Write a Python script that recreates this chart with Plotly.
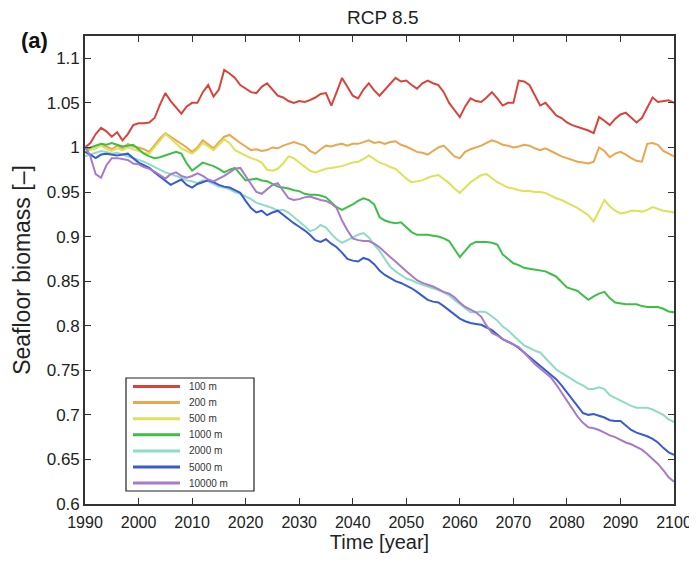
import plotly.graph_objects as go

years = list(range(1990, 2101))

depth_labels = ["100 m", "200 m", "500 m", "1000 m", "2000 m", "5000 m", "10000 m"]

b100 = [1.000, 1.005, 1.015, 1.022, 1.018, 1.012, 1.017, 1.008, 1.015, 1.025,
        1.027, 1.027, 1.028, 1.033, 1.048, 1.061, 1.052, 1.045, 1.038, 1.046,
        1.050, 1.050, 1.062, 1.070, 1.057, 1.065, 1.087, 1.083, 1.078, 1.070,
        1.066, 1.062, 1.061, 1.068, 1.072, 1.065, 1.058, 1.056, 1.052, 1.050,
        1.052, 1.051, 1.053, 1.056, 1.060, 1.061, 1.047, 1.062, 1.078, 1.068,
        1.058, 1.055, 1.065, 1.072, 1.064, 1.058, 1.065, 1.072, 1.078, 1.074,
        1.075, 1.070, 1.066, 1.072, 1.075, 1.072, 1.070, 1.062, 1.050, 1.042,
        1.034, 1.046, 1.055, 1.052, 1.051, 1.056, 1.062, 1.055, 1.047, 1.050,
        1.050, 1.075, 1.074, 1.070, 1.058, 1.047, 1.050, 1.043, 1.036, 1.033,
        1.028, 1.025, 1.023, 1.021, 1.019, 1.016, 1.034, 1.030, 1.025, 1.032,
        1.037, 1.039, 1.033, 1.028, 1.033, 1.045, 1.056, 1.051, 1.052, 1.053,
        1.050]

b200 = [1.000, 0.998, 0.999, 1.003, 1.001, 0.998, 1.002, 0.999, 1.004, 1.001,
        1.000, 0.998, 0.995, 1.003, 1.010, 1.016, 1.012, 1.008, 1.005, 1.000,
        0.995, 1.000, 1.008, 1.004, 0.999, 1.006, 1.012, 1.014, 1.009, 1.005,
        1.001, 0.997, 0.998, 0.996, 0.997, 1.000, 0.999, 1.002, 1.004, 1.006,
        1.004, 1.002, 0.996, 0.993, 0.998, 1.002, 1.001, 1.003, 1.004, 1.002,
        1.004, 1.004, 1.006, 1.008, 1.005, 1.006, 1.004, 1.006, 1.007, 1.003,
        1.001, 0.998, 0.995, 0.994, 0.992, 0.996, 1.000, 1.002, 0.996, 0.990,
        0.988, 0.995, 0.998, 1.000, 1.002, 1.005, 1.008, 1.006, 1.003, 1.002,
        1.000, 1.001, 1.003, 1.002, 0.999, 0.997, 0.999, 0.996, 0.993, 0.990,
        0.988, 0.986, 0.984, 0.983, 0.982, 0.984, 1.000, 0.996, 0.989, 0.993,
        0.995, 0.992, 0.988, 0.985, 0.984, 1.004, 1.005, 1.003, 0.996, 0.993,
        0.990]

b500 = [0.995, 0.997, 1.000, 1.002, 0.998, 0.996, 0.999, 0.997, 1.000, 0.998,
        0.996, 0.994, 0.993, 1.000, 1.008, 1.015, 1.010, 1.004, 0.999, 0.996,
        0.993, 0.998, 1.005, 1.001, 0.997, 1.003, 1.009, 1.005, 0.997, 0.994,
        0.991, 0.988, 0.986, 0.983, 0.975, 0.974, 0.976, 0.982, 0.990, 0.988,
        0.983, 0.978, 0.974, 0.972, 0.974, 0.976, 0.977, 0.978, 0.979, 0.981,
        0.983, 0.984, 0.987, 0.991, 0.987, 0.983, 0.981, 0.978, 0.976, 0.970,
        0.965, 0.961, 0.962, 0.963, 0.966, 0.968, 0.969, 0.965, 0.960, 0.954,
        0.949, 0.955, 0.961, 0.965, 0.969, 0.970, 0.965, 0.961, 0.958, 0.955,
        0.954, 0.952, 0.951, 0.951, 0.950, 0.950, 0.949, 0.946, 0.943, 0.941,
        0.938, 0.935, 0.932, 0.928, 0.924, 0.917, 0.930, 0.941, 0.934, 0.929,
        0.926, 0.927, 0.929, 0.929, 0.928, 0.930, 0.933, 0.931, 0.929, 0.928,
        0.927]

b1000 = [0.998, 1.000, 1.002, 1.004, 1.003, 1.005, 1.003, 1.001, 1.002, 1.003,
         0.998, 0.993, 0.990, 0.988, 0.989, 0.991, 0.993, 0.995, 0.993, 0.982,
         0.974, 0.978, 0.983, 0.981, 0.979, 0.976, 0.972, 0.975, 0.977, 0.970,
         0.963, 0.964, 0.965, 0.963, 0.962, 0.959, 0.956, 0.955, 0.954, 0.952,
         0.951, 0.948, 0.947, 0.947, 0.946, 0.944, 0.938, 0.933, 0.930, 0.933,
         0.936, 0.940, 0.943, 0.941, 0.936, 0.922, 0.918, 0.916, 0.915, 0.916,
         0.911, 0.905, 0.902, 0.902, 0.902, 0.901, 0.900, 0.898, 0.895, 0.886,
         0.877, 0.884, 0.891, 0.894, 0.894, 0.894, 0.893, 0.891, 0.880, 0.875,
         0.870, 0.868, 0.865, 0.864, 0.863, 0.862, 0.861, 0.858, 0.855, 0.849,
         0.843, 0.841, 0.839, 0.834, 0.829, 0.833, 0.836, 0.838, 0.831, 0.826,
         0.825, 0.824, 0.824, 0.824, 0.822, 0.821, 0.821, 0.821, 0.819, 0.816,
         0.815]

b2000 = [0.990, 0.992, 0.994, 0.996, 0.995, 0.993, 0.994, 0.992, 0.990, 0.988,
         0.986, 0.984, 0.981, 0.978, 0.975, 0.972, 0.970, 0.968, 0.966, 0.963,
         0.962, 0.960, 0.963, 0.962, 0.959, 0.956, 0.955, 0.953, 0.950, 0.948,
         0.945, 0.942, 0.938, 0.936, 0.934, 0.932, 0.929, 0.930, 0.927, 0.922,
         0.918, 0.912, 0.906, 0.908, 0.913, 0.910, 0.903, 0.897, 0.893, 0.896,
         0.899, 0.902, 0.904, 0.899, 0.891, 0.884, 0.875, 0.866, 0.861, 0.857,
         0.853, 0.851, 0.848, 0.846, 0.844, 0.842, 0.840, 0.837, 0.834, 0.829,
         0.824, 0.819, 0.815, 0.815, 0.816, 0.815, 0.811, 0.806, 0.799, 0.795,
         0.789, 0.783, 0.778, 0.775, 0.772, 0.770, 0.764, 0.757, 0.751, 0.747,
         0.743, 0.739, 0.736, 0.733, 0.729, 0.729, 0.731, 0.729, 0.722, 0.719,
         0.716, 0.713, 0.710, 0.708, 0.708, 0.708, 0.706, 0.703, 0.700, 0.695,
         0.692]

b5000 = [0.995, 0.992, 0.988, 0.992, 0.993, 0.992, 0.991, 0.992, 0.993, 0.988,
         0.983, 0.980, 0.977, 0.972, 0.967, 0.963, 0.958, 0.961, 0.964, 0.958,
         0.955, 0.959, 0.961, 0.963, 0.961, 0.958, 0.956, 0.955, 0.952, 0.949,
         0.940, 0.932, 0.927, 0.929, 0.924, 0.927, 0.929, 0.924, 0.919, 0.915,
         0.911, 0.907, 0.902, 0.896, 0.894, 0.897, 0.892, 0.888, 0.882, 0.875,
         0.873, 0.872, 0.876, 0.874, 0.869, 0.862, 0.857, 0.853, 0.850, 0.848,
         0.845, 0.842, 0.838, 0.834, 0.829, 0.827, 0.826, 0.822, 0.817, 0.812,
         0.808, 0.805, 0.803, 0.802, 0.801, 0.798, 0.795, 0.790, 0.785, 0.782,
         0.779, 0.775, 0.770, 0.765, 0.759, 0.754, 0.749, 0.745, 0.740, 0.733,
         0.725, 0.717, 0.709, 0.702, 0.700, 0.701, 0.699, 0.697, 0.694, 0.693,
         0.693, 0.688, 0.683, 0.680, 0.678, 0.676, 0.673, 0.669, 0.663, 0.658,
         0.655]

b10000 = [1.002, 0.990, 0.970, 0.966, 0.980, 0.988, 0.988, 0.987, 0.986, 0.982,
          0.981, 0.978, 0.976, 0.973, 0.969, 0.965, 0.970, 0.972, 0.968, 0.966,
          0.968, 0.971, 0.968, 0.964, 0.962, 0.965, 0.968, 0.972, 0.976, 0.977,
          0.968, 0.958, 0.950, 0.948, 0.953, 0.958, 0.960, 0.952, 0.943, 0.941,
          0.942, 0.944, 0.945, 0.943, 0.941, 0.940, 0.937, 0.932, 0.918, 0.907,
          0.898, 0.896, 0.895, 0.895, 0.892, 0.888, 0.882, 0.877, 0.872, 0.866,
          0.861, 0.856, 0.851, 0.848, 0.846, 0.844, 0.841, 0.838, 0.836, 0.832,
          0.826, 0.821, 0.818, 0.815, 0.810, 0.800, 0.792, 0.789, 0.785, 0.782,
          0.779, 0.776, 0.770, 0.763, 0.757, 0.752, 0.747, 0.742, 0.734, 0.725,
          0.717, 0.708, 0.698, 0.691, 0.686, 0.685, 0.683, 0.680, 0.677, 0.675,
          0.672, 0.669, 0.667, 0.664, 0.661, 0.656, 0.651, 0.645, 0.638, 0.630,
          0.625]

series = [b100, b200, b500, b1000, b2000, b5000, b10000]
colors = ["#d9443a", "#eba64e", "#dde257", "#3dbf47", "#8fdcc6", "#3a5ad2", "#a77bc9"]

y_ticks = [0.6, 0.65, 0.7, 0.75, 0.8, 0.85, 0.9, 0.95, 1.0, 1.05, 1.1]
y_ticktext = ["0.6", "0.65", "0.7", "0.75", "0.8", "0.85", "0.9", "0.95", "1", "1.05", "1.1"]
x_ticks = list(range(1990, 2101, 10))

FONT = "Liberation Sans, Arial, Helvetica, sans-serif"

# page body has an 8px margin; screen-space plot area is x 85..674, y 36..504
OFF = 8
SW, SH = 697, 564
W, H = SW - OFF, SH - 2 * OFF
PX0, PX1, PY0, PY1 = 85, 674, 36, 504
ML, MT = PX0 - OFF, PY0 - OFF
MR, MB = OFF + W - PX1, OFF + H - PY1
PW, PH = PX1 - PX0, PY1 - PY0

def px(xs):
    return (xs - PX0) / PW

def py(ys):
    return (PY1 - ys) / PH

fig = go.Figure()
for name, vals, col in zip(depth_labels, series, colors):
    fig.add_trace(go.Scatter(x=years, y=vals, mode="lines", name=name,
                             line=dict(color=col, width=2), showlegend=False))

shapes = []
annotations = []

# legend box
shapes.append(dict(type="rect", xref="paper", yref="paper",
                   x0=px(126), x1=px(254), y0=py(491), y1=py(378),
                   line=dict(color="#222", width=1.2), fillcolor="white", layer="above"))
row0, drow = 386.5, 16.1
for i, (name, col) in enumerate(zip(depth_labels, colors)):
    yy = row0 + i * drow
    shapes.append(dict(type="line", xref="paper", yref="paper",
                       x0=px(133), x1=px(180), y0=py(yy), y1=py(yy),
                       line=dict(color=col, width=3), layer="above"))
    annotations.append(dict(text=name, x=px(187), y=py(yy), xref="paper", yref="paper",
                            xanchor="left", yanchor="middle", showarrow=False,
                            font=dict(family=FONT, size=10, color="#333")))

annotations.append(dict(text="RCP 8.5", x=px(382), y=py(18), xref="paper", yref="paper",
                        xanchor="center", yanchor="middle", showarrow=False,
                        font=dict(size=19, family=FONT, color="#222")))
annotations.append(dict(text="<b>(a)</b>", x=px(19), y=py(41), xref="paper", yref="paper",
                        xanchor="left", yanchor="middle", showarrow=False,
                        font=dict(size=22, family=FONT, color="#111")))

fig.update_layout(
    width=W, height=H,
    margin=dict(l=ML, r=MR, t=MT, b=MB, autoexpand=False),
    paper_bgcolor="white", plot_bgcolor="white",
    font=dict(family=FONT, size=17, color="#222"),
    showlegend=False,
    shapes=shapes,
    annotations=annotations,
)

fig.update_xaxes(range=[1990, 2100], tickvals=x_ticks, ticks="inside", ticklen=6,
                 tickcolor="#333", tickfont=dict(size=16), ticklabelstandoff=3,
                 ticklabeloverflow="allow",
                 showline=True, linecolor="#333", linewidth=1.6, mirror="allticks",
                 showgrid=False, zeroline=False, automargin=False,
                 title=dict(text="Time [year]", font=dict(size=20), standoff=1))
fig.update_yaxes(range=[0.6, 1.125], tickvals=y_ticks, ticktext=y_ticktext,
                 ticks="inside", ticklen=6, tickcolor="#333", tickfont=dict(size=17),
                 showline=True, linecolor="#333", linewidth=1.6, mirror="allticks",
                 showgrid=False, zeroline=False, automargin=False,
                 title=dict(text="Seafloor biomass [–]", font=dict(size=23), standoff=10))

fig.write_html("out.html")
